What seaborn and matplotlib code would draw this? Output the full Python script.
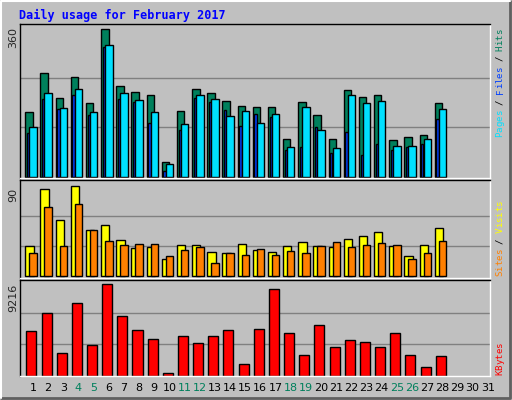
import matplotlib
matplotlib.use("Agg")
import matplotlib.pyplot as plt
import seaborn as sns
import pandas as pd
import numpy as np

days = list(range(1, 32))
hits = [157,252,191,242,179,359,220,206,198,37,159,213,203,184,172,169,169,91,181,150,91,211,194,198,89,96,101,179]
pages = [120,203,167,213,157,321,203,186,157,30,128,198,189,147,159,130,152,72,169,115,69,198,179,184,74,76,93,164]
files = [106,189,164,198,150,315,189,181,130,13,115,191,181,162,123,152,145,64,72,120,59,108,54,79,64,72,81,140]
visits = [30,87,56,90,46,51,36,28,29,17,31,31,24,23,32,26,24,30,34,30,29,37,40,44,30,20,31,48]
sites = [23,69,30,72,46,35,31,32,32,20,26,29,13,23,21,27,21,25,23,30,34,29,31,33,31,17,23,35]
kbytes = [4362,6134,2198,7118,2985,8987,5838,4461,3575,230,3870,3182,3870,4461,1115,4559,8495,4166,2001,4953,2788,3477,3280,2788,4166,2001,820,1902]
weekend = [4,5,11,12,18,19,25,26]

sns.set_style("white")
plt.rcParams['font.family'] = ['DejaVu Sans Mono', 'DejaVu Sans']
W, H = 512, 400
fig = plt.figure(figsize=(W/100, H/100), dpi=100)
fig.patch.set_facecolor("#C0C0C0")
def frac(x0, y0, x1, y1):
    return [x0/W, 1-y1/H, (x1-x0)/W, (y1-y0)/H]
border = fig.add_axes([0, 0, 1, 1]); border.set_axis_off()
border.set_xlim(0, W); border.set_ylim(H, 0)
border.plot([1, W-2, W-2], [H-2, H-2, 1], color="#606060", lw=2)
border.plot([1, 1, W-2], [H-2, 1, 1], color="white", lw=1.5)

XL = (-0.75, 30.25)
n = len(hits)
idx = np.arange(n)

def setup(ax, ylim):
    ax.set_facecolor("#C0C0C0")
    ax.set_xlim(*XL); ax.set_ylim(*ylim)
    ax.set_xticks([]); ax.set_yticks([])
    for s in ax.spines.values():
        s.set_color("black"); s.set_linewidth(1)
    ax.spines['bottom'].set_color("white"); ax.spines['right'].set_color("white")

ek = dict(edgecolor="black", linewidth=1, align="edge")

ax1 = fig.add_axes(frac(20, 24, 490, 178))
setup(ax1, (-3, 372))
for g in (120, 240):
    ax1.axhline(g, color="#808080", lw=1, zorder=0)
ax1.bar(idx-0.40, hits, 0.49, color="#00805C", **ek)
ax1.bar(idx-0.29, files, 0.15, color="#0040FF", **ek)
ax1.bar(idx-0.136, pages, 0.49, color="#00E0FF", **ek)

ax2 = fig.add_axes(frac(20, 180, 490, 278))
setup(ax2, (-1.7, 96.3))
for g in (30, 60):
    ax2.axhline(g, color="#808080", lw=1, zorder=0)
ax2.bar(idx-0.40, visits, 0.55, color="#FFFF00", **ek)
ax2.bar(idx-0.136, sites, 0.49, color="#FF8000", **ek)

ax3 = fig.add_axes(frac(20, 280, 490, 376))
df = pd.DataFrame({"day": idx[:n], "kb": kbytes})
sns.barplot(data=df, x="day", y="kb", ax=ax3, color="#FF0000", saturation=1,
            width=0.66, edgecolor="black", linewidth=1, native_scale=True)
setup(ax3, (-30, 9417))
ax3.set_xlabel(""); ax3.set_ylabel("")
for g in (3072, 6144):
    ax3.axhline(g, color="#808080", lw=1, zorder=0)

for i, d in enumerate(days):
    c = "#00805C" if d in weekend else "black"
    fig.text((20 + (i + 0.1 + 0.75) * 470/31) / W, 1 - 388/H, str(d), color=c,
             ha="center", va="center", fontsize=8, family="DejaVu Sans")

fig.text(19/W, 1-15/H, "Daily usage for February 2017", color="#0000FF",
         fontsize=8.5, fontweight="bold", va="center", ha="left")
fig.text(13/W, 1-38/H, "360", rotation=90, fontsize=8, va="center", ha="center", family="DejaVu Sans")
fig.text(13/W, 1-195/H, "90", rotation=90, fontsize=8, va="center", ha="center", family="DejaVu Sans")
fig.text(13/W, 1-298/H, "9216", rotation=90, fontsize=8, va="center", ha="center", family="DejaVu Sans")

CH = 5.4
def vlabel(y_bottom, parts):
    y = y_bottom
    for txt, col in parts:
        for ch in txt:
            if ch != " ":
                fig.text(500/W, 1-(y - CH/2)/H, ch, rotation=90, color=col,
                         fontsize=6.6, va="center", ha="center")
            y -= CH
vlabel(137, [("Pages", "#00E0FF"), (" / ", "black"), ("Files", "#0040FF"), (" / ", "black"), ("Hits", "#00805C")])
vlabel(276, [("Sites", "#FF8000"), (" / ", "black"), ("Visits", "#FFFF00")])
vlabel(375, [("KBytes", "#FF0000")])

fig.savefig("out.png", dpi=100, facecolor=fig.get_facecolor())
